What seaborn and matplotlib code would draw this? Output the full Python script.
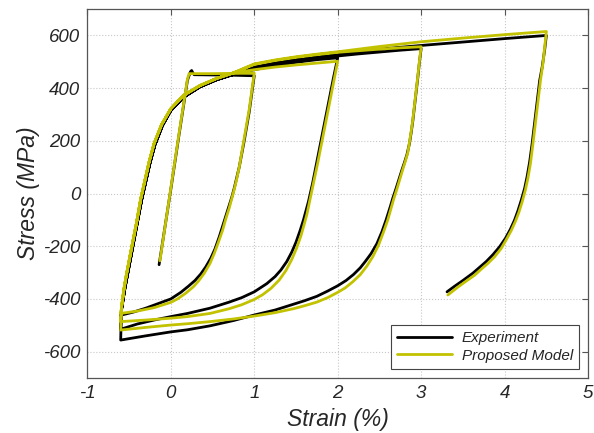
import numpy as np
import pandas as pd
import matplotlib
matplotlib.use("Agg")
import matplotlib.pyplot as plt
import seaborn as sns

# ---------------- data: cyclic stress-strain paths ----------------
# Experiment
exp_load_strain = [-0.14, 0.0, 0.1, 0.2, 0.235, 0.25, 0.265, 0.28, 0.5, 0.75, 1.0]
exp_load_stress = [-270, 15, 225, 430, 462, 467, 458, 451, 450, 449, 447]

exp_unload1_strain = [1.0, 0.97, 0.94, 0.91, 0.88, 0.85, 0.82, 0.79, 0.76, 0.73, 0.7, 0.66,
                      0.62, 0.58, 0.53, 0.48, 0.42, 0.36, 0.29, 0.21, 0.12, 0.04, 0.0,
                      -0.13, -0.3, -0.45, -0.59]
exp_unload1_stress = [447, 380, 310, 255, 200, 150, 100, 60, 20, -15, -45, -85,
                      -125, -165, -210, -245, -278, -305, -330, -352, -375, -392, -400,
                      -415, -435, -450, -461]

# common lower branch of every reload (from the compressive corner upward)
exp_reload_strain = [-0.59, -0.57, -0.55, -0.52, -0.49, -0.45, -0.4, -0.35, -0.3, -0.25,
                     -0.19, -0.1, 0.0, 0.15, 0.35, 0.55, 0.75]
exp_reload_stress = [-440, -400, -360, -310, -260, -195, -110, -25, 45, 115,
                     185, 258, 315, 365, 405, 432, 452]

exp_reload1_strain = [1.0, 1.25, 1.5, 1.75, 2.0]
exp_reload1_stress = [470, 485, 498, 508, 515]

exp_unload2_strain = [2.0, 1.95, 1.9, 1.85, 1.8, 1.75, 1.7, 1.65, 1.62, 1.59, 1.55, 1.5,
                      1.45, 1.39, 1.32, 1.25, 1.15, 1.0, 0.85, 0.7, 0.47, 0.2, 0.0,
                      -0.2, -0.4, -0.6]
exp_unload2_stress = [515, 440, 360, 280, 200, 120, 40, -30, -65, -100, -140, -185,
                      -222, -258, -290, -315, -342, -373, -395, -412, -435, -455, -467,
                      -480, -495, -515]

exp_reload2_strain = [1.0, 1.25, 1.5, 1.75, 2.0, 2.25, 2.5, 2.75, 3.0]
exp_reload2_stress = [476, 492, 505, 514, 522, 530, 537, 544, 550]

exp_unload3_strain = [3.0, 2.98, 2.96, 2.94, 2.92, 2.9, 2.88, 2.86, 2.83, 2.8, 2.77, 2.73,
                      2.7, 2.66, 2.63, 2.58, 2.53, 2.47, 2.4, 2.33, 2.27, 2.19, 2.1, 2.0,
                      1.88, 1.75, 1.6, 1.47, 1.25, 1.0, 0.75, 0.47, 0.2, 0.0, -0.3, -0.6]
exp_unload3_stress = [550, 500, 440, 385, 330, 275, 230, 190, 148, 118, 90, 50,
                      20, -18, -50, -100, -145, -190, -228, -258, -282, -307, -330, -350,
                      -370, -390, -407, -420, -442, -461, -482, -502, -517, -525, -540, -556]

exp_reload3_strain = [1.0, 1.25, 1.5, 1.75, 2.0, 2.5, 3.0, 3.5, 4.0, 4.5]
exp_reload3_stress = [480, 496, 509, 519, 528, 548, 562, 575, 588, 600]

exp_unload4_strain = [4.5, 4.48, 4.45, 4.42, 4.39, 4.36, 4.33, 4.3, 4.27, 4.24, 4.2, 4.16,
                      4.12, 4.07, 4.01, 3.94, 3.86, 3.78, 3.7, 3.62, 3.5, 3.4, 3.31]
exp_unload4_stress = [600, 545, 480, 429, 350, 270, 190, 120, 65, 20, -25, -65,
                      -100, -135, -170, -202, -232, -258, -280, -302, -330, -352, -373]

# Proposed model
mod_load_strain = [-0.13, 0.0, 0.1, 0.2, 0.22, 0.26, 0.5, 0.75, 1.0]
mod_load_stress = [-255, 20, 230, 435, 455, 455, 455, 456, 457]

mod_unload1_strain = [1.0, 0.97, 0.94, 0.91, 0.88, 0.85, 0.82, 0.79, 0.76, 0.73, 0.7, 0.66,
                      0.62, 0.57, 0.52, 0.47, 0.4, 0.33, 0.27, 0.18, 0.08, 0.0,
                      -0.2, -0.4, -0.6]
mod_unload1_stress = [457, 390, 320, 265, 210, 155, 100, 55, 15, -20, -55, -95,
                      -140, -185, -228, -265, -303, -333, -354, -378, -400, -413,
                      -433, -446, -455]

mod_reload_strain = [-0.59, -0.575, -0.56, -0.53, -0.5, -0.46, -0.41, -0.36, -0.31, -0.26,
                     -0.2, -0.11, 0.0, 0.15, 0.35, 0.55, 0.75]
mod_reload_stress = [-430, -395, -360, -305, -255, -190, -110, -20, 50, 120,
                     190, 262, 322, 372, 410, 437, 458]

mod_reload1_strain = [1.0, 1.25, 1.5, 1.75, 2.0]
mod_reload1_stress = [470, 480, 488, 495, 502]

mod_unload2_strain = [2.0, 1.95, 1.9, 1.85, 1.8, 1.76, 1.72, 1.69, 1.66, 1.63, 1.6, 1.56,
                      1.51, 1.45, 1.38, 1.3, 1.2, 1.1, 1.0, 0.85, 0.7, 0.47, 0.2, 0.0,
                      -0.3, -0.6]
mod_unload2_stress = [502, 420, 340, 260, 180, 115, 55, 10, -35, -80, -115, -160,
                      -205, -250, -292, -328, -360, -384, -402, -422, -437, -455, -467, -473,
                      -480, -486]

mod_reload2_strain = [1.0, 1.25, 1.5, 1.75, 2.0, 2.25, 2.5, 2.75, 3.0]
mod_reload2_stress = [490, 505, 517, 527, 536, 542, 548, 553, 557]

mod_unload3_strain = [3.0, 2.98, 2.96, 2.94, 2.92, 2.9, 2.88, 2.86, 2.84, 2.81, 2.78, 2.74,
                      2.71, 2.67, 2.64, 2.6, 2.55, 2.49, 2.42, 2.35, 2.27, 2.18, 2.09, 2.0,
                      1.88, 1.75, 1.6, 1.47, 1.25, 1.0, 0.75, 0.47, 0.2, 0.0, -0.3, -0.6]
mod_unload3_stress = [557, 505, 445, 390, 335, 280, 235, 195, 155, 122, 92, 50,
                      18, -22, -55, -100, -145, -195, -240, -275, -308, -335, -358, -375,
                      -395, -412, -426, -437, -452, -465, -476, -486, -494, -499, -508, -518]

mod_reload3_strain = [1.0, 1.25, 1.5, 1.75, 2.0, 2.5, 3.0, 3.5, 4.0, 4.5]
mod_reload3_stress = [492, 507, 519, 529, 538, 558, 576, 590, 603, 615]

mod_unload4_strain = [4.5, 4.48, 4.46, 4.43, 4.4, 4.37, 4.34, 4.31, 4.28, 4.25, 4.21, 4.17,
                      4.13, 4.08, 4.02, 3.96, 3.88, 3.8, 3.72, 3.64, 3.55, 3.44, 3.32]
mod_unload4_stress = [615, 555, 495, 430, 350, 270, 190, 115, 60, 15, -32, -72,
                      -105, -140, -175, -208, -240, -265, -287, -310, -330, -355, -385]

x_ticks = [-1, 0, 1, 2, 3, 4, 5]
y_ticks = [-600, -400, -200, 0, 200, 400, 600]
series_names = ["Experiment", "Proposed Model"]


def build_path(parts):
    xs, ys = [], []
    for sx, sy in parts:
        xs.extend(sx)
        ys.extend(sy)
    return xs, ys


exp_x, exp_y = build_path([
    (exp_load_strain, exp_load_stress),
    (exp_unload1_strain, exp_unload1_stress),
    ([-0.6], [-461]), (exp_reload_strain, exp_reload_stress),
    (exp_reload1_strain, exp_reload1_stress),
    (exp_unload2_strain, exp_unload2_stress),
    ([-0.6, -0.595], [-515, -470]), (exp_reload_strain, exp_reload_stress),
    (exp_reload2_strain, exp_reload2_stress),
    (exp_unload3_strain, exp_unload3_stress),
    ([-0.6, -0.597, -0.594], [-556, -500, -465]), (exp_reload_strain, exp_reload_stress),
    (exp_reload3_strain, exp_reload3_stress),
    (exp_unload4_strain, exp_unload4_stress),
])

mod_x, mod_y = build_path([
    (mod_load_strain, mod_load_stress),
    (mod_unload1_strain, mod_unload1_stress),
    ([-0.6], [-455]), (mod_reload_strain, mod_reload_stress),
    (mod_reload1_strain, mod_reload1_stress),
    (mod_unload2_strain, mod_unload2_stress),
    ([-0.6, -0.595], [-486, -455]), (mod_reload_strain, mod_reload_stress),
    (mod_reload2_strain, mod_reload2_stress),
    (mod_unload3_strain, mod_unload3_stress),
    ([-0.6, -0.595], [-518, -455]), (mod_reload_strain, mod_reload_stress),
    (mod_reload3_strain, mod_reload3_stress),
    (mod_unload4_strain, mod_unload4_stress),
])

df = pd.DataFrame({
    "strain": exp_x + mod_x,
    "stress": exp_y + mod_y,
    "series": [series_names[0]] * len(exp_x) + [series_names[1]] * len(mod_x),
})

# ---------------- figure ----------------
sns.set_style("white")
FONT = ["Liberation Sans", "DejaVu Sans"]
plt.rcParams["font.family"] = FONT
plt.rcParams["font.style"] = "italic"

fig = plt.figure(figsize=(5.94, 4.33), dpi=100)
ax = fig.add_axes([0.147, 0.127, 0.843, 0.852])

palette = {"Experiment": "#000000", "Proposed Model": "#c2c200"}
for name in series_names:
    sub = df[df["series"] == name]
    sns.lineplot(data=sub, x="strain", y="stress", sort=False, estimator=None,
                 color=palette[name], linewidth=2.0, ax=ax, label=name,
                 solid_joinstyle="round", solid_capstyle="round")

tick_font = {"family": FONT, "style": "italic", "size": 13.5}
label_font = {"family": FONT, "style": "italic", "size": 16.5}

ax.set_xlim(-1, 5)
ax.set_ylim(-700, 700)
ax.set_xticks(x_ticks)
ax.set_yticks(y_ticks)
ax.set_xticklabels([str(t) for t in x_ticks], fontdict=tick_font)
ax.set_yticklabels([str(t) for t in y_ticks], fontdict=tick_font)
ax.tick_params(direction="in", length=4, width=0.8, color="#555555",
               top=True, right=True, pad=5)
ax.grid(True, linestyle=":", linewidth=0.8, color="#c8c8c8")
for sp in ax.spines.values():
    sp.set_color("#555555")
    sp.set_linewidth(0.9)

ax.set_xlabel("Strain (%)", fontdict=label_font, labelpad=4)
ax.set_ylabel("Stress (MPa)", fontdict=label_font, labelpad=2)

leg = ax.legend(loc="lower right", frameon=True, fancybox=False,
                edgecolor="#444444", framealpha=1, handlelength=3.6,
                borderaxespad=0.6, handletextpad=0.6, labelspacing=0.25,
                prop={"family": FONT, "style": "italic", "size": 11})
leg.get_frame().set_linewidth(0.8)

fig.savefig("out.png", dpi=100)
